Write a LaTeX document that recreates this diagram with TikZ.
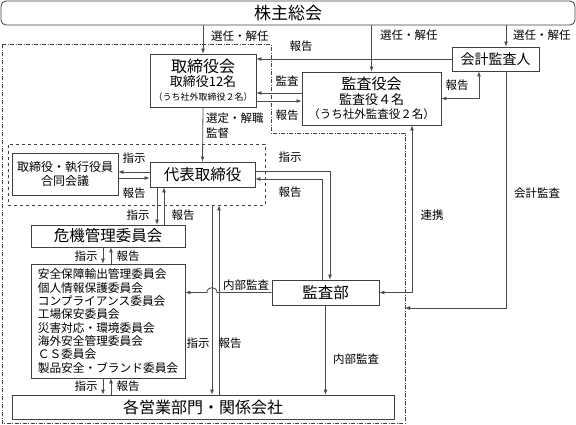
\documentclass[tikz,border=0pt]{standalone}
\usepackage{fontspec}
\setmainfont{Noto Sans CJK JP}
\usetikzlibrary{arrows.meta}

\begin{document}
\begin{tikzpicture}[x=1pt,y=-1pt,
  box/.style={draw=black!75, line width=0.8pt, inner sep=1pt, align=center},
  lbl/.style={font=\fontsize{11.5}{15}\selectfont, inner sep=0pt},
  arr/.style={draw=black!70, line width=0.8pt, -{Latex[length=5pt,width=4pt]}},
  arrb/.style={arr, {Latex[length=5pt,width=4pt]}-{Latex[length=5pt,width=4pt]}}]
\useasboundingbox (0,0) rectangle (576,424);

\node[box, rounded corners=5pt, minimum width=574, minimum height=24, font=\fontsize{17}{17}\selectfont] (gm) at (288,13) {株主総会};
\node[box, minimum width=106, minimum height=53, font=\fontsize{13}{14}\selectfont] (board) at (203,80.5)
  {{\fontsize{16}{16}\selectfont 取締役会}\\取締役12名\\{\fontsize{9}{9}\selectfont （うち社外取締役２名）}};
\node[box, minimum width=139, minimum height=53, font=\fontsize{13}{14.5}\selectfont] (kansa) at (371.5,98.5)
  {{\fontsize{15}{15}\selectfont 監査役会}\\監査役４名\\{\fontsize{11.5}{12}\selectfont （うち社外監査役２名）}};
\node[box, minimum width=87, minimum height=24, font=\fontsize{14}{14}\selectfont] (auditor) at (495.5,59) {会計監査人};

\node[draw=black!75, dashed, line width=0.8pt, minimum width=257, minimum height=61] (grp) at (136.5,174.5) {};
\node[box, minimum width=106, minimum height=42, font=\fontsize{12}{14}\selectfont] (meeting) at (65,174) {取締役・執行役員\\合同会議};
\node[box, minimum width=105, minimum height=25, font=\fontsize{15.5}{16}\selectfont] (ceo) at (202.5,174.5) {代表取締役};

\node[box, minimum width=154, minimum height=22, font=\fontsize{15.5}{16}\selectfont] (crisis) at (108,236) {危機管理委員会};
\node[box, minimum width=154, minimum height=114, align=left, font=\fontsize{11.7}{13.3}\selectfont] (comm) at (108,321)
  {安全保障輸出管理委員会\\個人情報保護委員会\\コンプライアンス委員会\\工場保安委員会\\災害対応・環境委員会\\海外安全管理委員会\\ＣＳ委員会\\製品安全・ブランド委員会};
\node[box, minimum width=382, minimum height=24, font=\fontsize{16}{16}\selectfont] (ops) at (203,407) {各営業部門・関係会社};
\node[box, minimum width=107, minimum height=25, font=\fontsize{15.5}{16}\selectfont] (audit) at (325.5,292.5) {監査部};

\draw[black!75, line width=0.8pt, dash pattern=on 4pt off 1.5pt on 1pt off 1.5pt]
  (2,44) -- (271,44) -- (271,133) -- (405,133) -- (405,423) -- (2,423) -- cycle;
\coordinate (acct) at (405,308);

\draw[arr] (gm.south -| board.north) -- (board.north);
\node[lbl, anchor=west] (l1) at (211,36) {選任・解任};
\draw[arr] (gm.south -| kansa.north) -- (kansa.north);
\node[lbl, anchor=west] (l2) at (380,35) {選任・解任};
\draw[arr] ([xshift=10.5pt]auditor.north |- gm.south) -- ([xshift=10.5pt]auditor.north);
\node[lbl, anchor=west] (l3) at (513,35) {選任・解任};

\draw[arr] (auditor.west) -- (auditor.west -| board.east);
\node[lbl] (l4) at (301,46) {報告};
\draw[arr] ([yshift=5.5pt]kansa.west) -- ([yshift=5.5pt]kansa.west -| board.east);
\node[lbl] (l5) at (287,81) {監査};
\draw[arr] ([yshift=-2.5pt]kansa.west -| board.east) -- ([yshift=-2.5pt]kansa.west);
\node[lbl] (l6) at (287,115) {報告};
\draw[arrb] (kansa.east) -| ([xshift=-16.5pt]auditor.south);
\node[lbl] (l7) at (457,85) {報告};

\draw[arr] (board.south) -- (ceo.north);
\node[lbl, anchor=west, align=left] (l8) at (206,126) {選定・解職\\監督};

\draw[arr] ([yshift=2.5pt]ceo.west) -- ([yshift=2.5pt]ceo.west -| meeting.east);
\node[lbl] (l9) at (134,158) {指示};
\draw[arr] ([yshift=-3.5pt]ceo.west -| meeting.east) -- ([yshift=-3.5pt]ceo.west);
\node[lbl] (l10) at (134,193) {報告};

\draw[arr] ([xshift=-45.5pt]ceo.south) -- ([xshift=-45.5pt]ceo.south |- crisis.north);
\node[lbl] (l11) at (138,215) {指示};
\draw[arr] ([xshift=-38.5pt]ceo.south |- crisis.north) -- ([xshift=-38.5pt]ceo.south);
\node[lbl] (l12) at (183,215) {報告};

\draw[arr] ([xshift=-5pt]crisis.south) -- ([xshift=-5pt]crisis.south |- comm.north);
\node[lbl] (l13) at (86,256) {指示};
\draw[arr] ([xshift=3pt]crisis.south |- comm.north) -- ([xshift=3pt]crisis.south);
\node[lbl] (l14) at (128,256) {報告};

\draw[arr] ([xshift=-5pt]comm.south) -- ([xshift=-5pt]comm.south |- ops.north);
\node[lbl] (l15) at (86,386) {指示};
\draw[arr] ([xshift=3pt]comm.south |- ops.north) -- ([xshift=3pt]comm.south);
\node[lbl] (l16) at (128,386) {報告};

\draw[arr] ([xshift=75.5pt]grp.south) -- ([xshift=75.5pt]grp.south |- ops.north);
\node[lbl] (l17) at (198,343) {指示};
\draw[arr] ([xshift=82.5pt]grp.south |- ops.north) -- ([xshift=82.5pt]grp.south);
\node[lbl] (l18) at (230,343) {報告};

\draw[arr] (audit.west) -- (217,292.5) .. controls (217,286) and (207,286) .. (207,292.5) -- (audit.west -| comm.east);
\node[lbl] (l19) at (246,285) {内部監査};

\draw[arr] ([yshift=3.5pt]ceo.east) -| ([xshift=4.5pt]audit.north);
\node[lbl] (l20) at (290,157) {指示};
\draw[arr] ([xshift=-3.5pt]audit.north) |- ([yshift=-4.5pt]ceo.east);
\node[lbl] (l21) at (290,192) {報告};

\draw[arr] (audit.south) -- (audit.south |- ops.north);
\node[lbl, anchor=west] (l22) at (333,359) {内部監査};

\draw[arrb] ([xshift=40.5pt]kansa.south) |- (audit.east);
\node[lbl] (l23) at (432,215) {連携};
\draw[arr] ([xshift=10.5pt]auditor.south) |- (acct);
\node[lbl] (l24) at (537,193) {会計監査};
\end{tikzpicture}
\end{document}
